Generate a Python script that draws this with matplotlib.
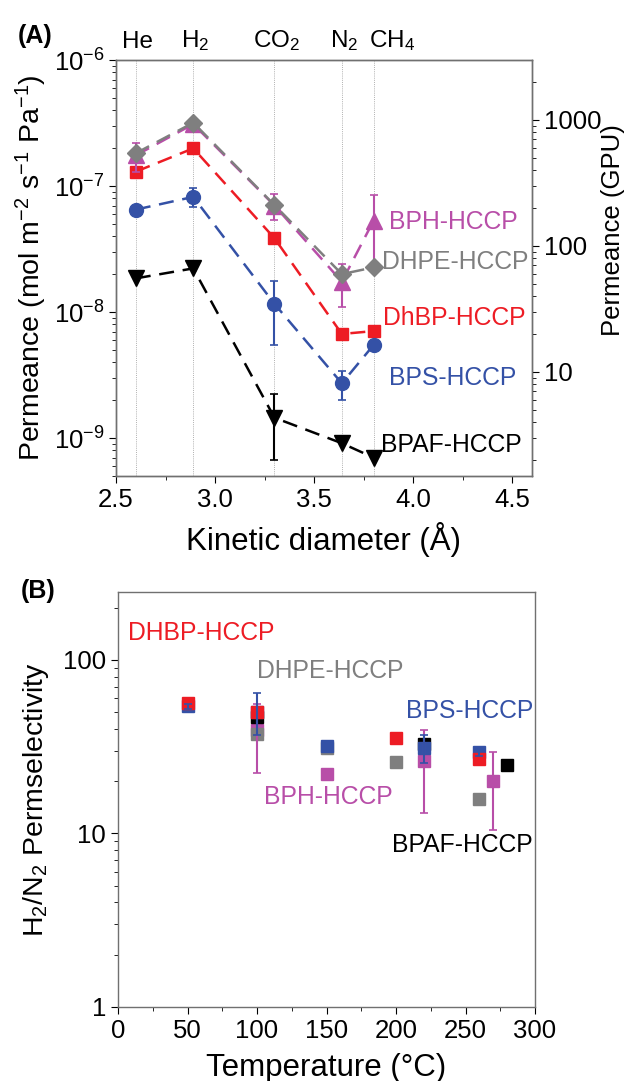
import matplotlib
matplotlib.use("Agg")
import matplotlib.pyplot as plt
import matplotlib.ticker as mticker
from matplotlib.transforms import blended_transform_factory
import numpy as np

plt.rcParams['font.family'] = ['Liberation Sans', 'DejaVu Sans']
plt.rcParams['mathtext.default'] = 'regular'
plt.rcParams['axes.linewidth'] = 1.0

# ---------------- Panel A data ----------------
gas_names = ['He', 'H$_2$', 'CO$_2$', 'N$_2$', 'CH$_4$']
kinetic_d = [2.6, 2.89, 3.3, 3.64, 3.8]

bpaf_perm = [1.85e-8, 2.22e-8, 1.45e-9, 9.1e-10, 7.0e-10]
bpaf_err = [0, 0, 7.8e-10, 0, 0]

bps_perm = [6.5e-8, 8.2e-8, 1.16e-8, 2.72e-9, 5.47e-9]
bps_err = [0, 1.4e-8, 6.1e-9, 7.0e-10, 0]

dhbp_perm = [1.30e-7, 1.99e-7, 3.85e-8, 6.7e-9, 7.06e-9]

bph_perm = [1.75e-7, 3.1e-7, 7.0e-8, 1.74e-8, 5.3e-8]
bph_err = [4.5e-8, 0, 1.65e-8, 6.5e-9, 3.2e-8]

dhpe_perm = [1.82e-7, 3.18e-7, 7.06e-8, 2.0e-8, 2.26e-8]

labelsA = ['BPH-HCCP', 'DHPE-HCCP', 'DhBP-HCCP', 'BPS-HCCP', 'BPAF-HCCP']
labelsA_x = [3.88, 3.845, 3.85, 3.88, 3.84]
labelsA_y = [5.2e-8, 2.5e-8, 8.9e-9, 3.0e-9, 8.8e-10]

GPU = 3.35e-10

# ---------------- Panel B data ----------------
temp_bph = [100, 150, 220, 270]
sel_bph = [39.5, 22.0, 26.3, 20.1]
sel_bph_lo = [17.2, 0, 13.2, 9.7]
sel_bph_hi = [16.5, 0, 13.2, 9.5]

temp_dhpe = [100, 150, 200, 260]
sel_dhpe = [37.4, 31.0, 25.7, 15.8]

temp_bpaf = [100, 220, 280]
sel_bpaf = [47.1, 32.7, 24.8]

temp_bps = [50, 100, 150, 220, 260]
sel_bps = [54.0, 50.0, 32.0, 31.0, 29.4]
sel_bps_lo = [2.0, 13.0, 0, 5.5, 1.5]
sel_bps_hi = [2.0, 14.3, 0, 6.0, 1.2]

temp_dhbp = [50, 100, 200, 260]
sel_dhbp = [56.3, 50.4, 35.4, 26.9]

labelsB = ['DHBP-HCCP', 'DHPE-HCCP', 'BPS-HCCP', 'BPH-HCCP', 'BPAF-HCCP']
labelsB_x = [7, 100, 207, 105, 197]
labelsB_y = [143, 86.5, 50.8, 16.3, 8.6]

# colours
RED = '#ED1C24'
BLUE = '#3451A6'
MAG = '#B84EA8'
GRAY = '#7F7F7F'
BLACK = '#000000'

W, H = 639, 1081
fig = plt.figure(figsize=(W / 100, H / 100), dpi=100)

def frac(l, t, r, b):
    return [l / W, 1 - b / H, (r - l) / W, (b - t) / H]

TICK_FS = 18.5
YLAB_FS = 20.5
XLAB_FS = 22.5
TXT_FS = 17.8

# ================= Panel A =================
ax = fig.add_axes(frac(116, 60, 532, 476))
ax.set_yscale('log')
ax.set_xlim(2.5, 4.6)
ax.set_ylim(5e-10, 1e-6)

for xd in kinetic_d:
    ax.axvline(xd, color='#B0B0B0', lw=0.7, ls=(0, (1, 1.2)), zorder=0)

dash = (0, (6, 3.5))
ax.plot(kinetic_d, bpaf_perm, ls=dash, lw=1.8, color=BLACK, zorder=2)
ax.errorbar(kinetic_d, bpaf_perm, yerr=bpaf_err, fmt='v', ms=11, color=BLACK,
            ecolor=BLACK, elinewidth=1.5, capsize=3, capthick=1.2, zorder=3)
ax.plot(kinetic_d, bps_perm, ls=dash, lw=1.8, color=BLUE, zorder=2)
ax.errorbar(kinetic_d, bps_perm, yerr=bps_err, fmt='o', ms=10, color=BLUE,
            ecolor=BLUE, elinewidth=1.5, capsize=3, capthick=1.2, zorder=3)
ax.plot(kinetic_d, dhbp_perm, ls=dash, lw=1.8, color=RED, zorder=2)
ax.plot(kinetic_d, dhbp_perm, 's', ms=9, color=RED, zorder=3)
ax.plot(kinetic_d, bph_perm, ls=dash, lw=1.8, color=MAG, zorder=4)
ax.errorbar(kinetic_d, bph_perm, yerr=bph_err, fmt='^', ms=11, color=MAG,
            ecolor=MAG, elinewidth=1.5, capsize=3, capthick=1.2, zorder=5)
ax.plot(kinetic_d, dhpe_perm, ls=dash, lw=1.8, color=GRAY, zorder=6)
ax.plot(kinetic_d, dhpe_perm, 'D', ms=9, color=GRAY, zorder=7)

for lab, lx, ly, c in zip(labelsA, labelsA_x, labelsA_y, [MAG, GRAY, RED, BLUE, BLACK]):
    ax.text(lx, ly, lab, color=c, fontsize=TXT_FS, va='center', ha='left')

trans = blended_transform_factory(ax.transData, ax.transAxes)
for i, (xd, g) in enumerate(zip(kinetic_d, gas_names)):
    if i == len(gas_names) - 1:
        ax.text(xd - 0.025, 1.03, g, transform=trans, ha='left', va='baseline', fontsize=17.5)
    else:
        ax.text(xd + 0.01, 1.03, g, transform=trans, ha='center', va='baseline', fontsize=17.5)

ax.xaxis.set_major_locator(mticker.MultipleLocator(0.5))
ax.xaxis.set_minor_locator(mticker.MultipleLocator(0.25))
ax.xaxis.set_major_formatter(mticker.FormatStrFormatter('%.1f'))
ax.yaxis.set_major_locator(mticker.LogLocator(base=10, numticks=10))
ax.yaxis.set_minor_locator(mticker.LogLocator(base=10, subs=np.arange(2, 10), numticks=20))
ax.yaxis.set_minor_formatter(mticker.NullFormatter())
ax.tick_params(which='both', direction='out', labelsize=TICK_FS, top=False, right=False)
ax.tick_params(which='major', length=5)
ax.tick_params(which='minor', length=3)
ax.set_xlabel('Kinetic diameter (Å)', fontsize=XLAB_FS, labelpad=7)
ax.set_ylabel('Permeance (mol m$^{-2}$ s$^{-1}$ Pa$^{-1}$)', fontsize=YLAB_FS, labelpad=3)
for sp in ax.spines.values():
    sp.set_color('#707070')

ax2 = ax.twinx()
ax2.set_yscale('log')
ax2.set_ylim(5e-10 / GPU, 1e-6 / GPU)
ax2.yaxis.set_major_locator(mticker.LogLocator(base=10, numticks=10))
ax2.yaxis.set_minor_locator(mticker.LogLocator(base=10, subs=np.arange(2, 10), numticks=20))
ax2.yaxis.set_major_formatter(mticker.FuncFormatter(lambda v, p: f'{v:g}'))
ax2.yaxis.set_minor_formatter(mticker.NullFormatter())
ax2.tick_params(which='both', direction='out', labelsize=TICK_FS)
ax2.tick_params(which='major', length=5)
ax2.tick_params(which='minor', length=3)
ax2.set_ylabel('Permeance (GPU)', fontsize=18.5)
ax2.yaxis.set_label_coords(1.165, 0.59)
for sp in ax2.spines.values():
    sp.set_color('#707070')

fig.text(35 / W, 1 - 36 / H, '(A)', fontsize=18, fontweight='bold', ha='center', va='center')

# ================= Panel B =================
bx = fig.add_axes(frac(118, 592, 535, 1007))
bx.set_yscale('log')
bx.set_xlim(0, 300)
bx.set_ylim(1, 246)

ms_b = 8
bx.plot(temp_bph, sel_bph, 's', ms=ms_b, color=MAG, zorder=2)
bx.plot(temp_dhpe, sel_dhpe, 's', ms=ms_b, color=GRAY, zorder=3)
bx.plot(temp_bpaf, sel_bpaf, 's', ms=ms_b, color=BLACK, zorder=4)
bx.plot(temp_bps, sel_bps, 's', ms=ms_b, color=BLUE, zorder=5)
bx.plot(temp_dhbp, sel_dhbp, 's', ms=ms_b, color=RED, zorder=6)
bx.errorbar(temp_bph, sel_bph, yerr=[sel_bph_lo, sel_bph_hi], fmt='none', ecolor=MAG,
            elinewidth=1.5, capsize=3, capthick=1.2, zorder=7)
bx.errorbar(temp_bps, sel_bps, yerr=[sel_bps_lo, sel_bps_hi], fmt='none', ecolor=BLUE,
            elinewidth=1.5, capsize=3, capthick=1.2, zorder=8)

for lab, lx, ly, c in zip(labelsB, labelsB_x, labelsB_y, [RED, GRAY, BLUE, MAG, BLACK]):
    bx.text(lx, ly, lab, color=c, fontsize=TXT_FS, va='center', ha='left')

bx.xaxis.set_major_locator(mticker.MultipleLocator(50))
bx.xaxis.set_minor_locator(mticker.MultipleLocator(25))
bx.yaxis.set_major_locator(mticker.LogLocator(base=10, numticks=10))
bx.yaxis.set_minor_locator(mticker.LogLocator(base=10, subs=np.arange(2, 10), numticks=20))
bx.yaxis.set_major_formatter(mticker.FuncFormatter(lambda v, p: f'{v:g}'))
bx.yaxis.set_minor_formatter(mticker.NullFormatter())
bx.tick_params(which='both', direction='out', labelsize=TICK_FS, top=False, right=False)
bx.tick_params(which='major', length=5)
bx.tick_params(which='minor', length=3)
bx.set_xlabel('Temperature (°C)', fontsize=XLAB_FS, labelpad=7)
bx.set_ylabel('H$_2$/N$_2$ Permselectivity', fontsize=YLAB_FS, labelpad=9)
for sp in bx.spines.values():
    sp.set_color('#707070')

fig.text(38 / W, 1 - 591 / H, '(B)', fontsize=18, fontweight='bold', ha='center', va='center')

fig.savefig('out.png', dpi=100)
